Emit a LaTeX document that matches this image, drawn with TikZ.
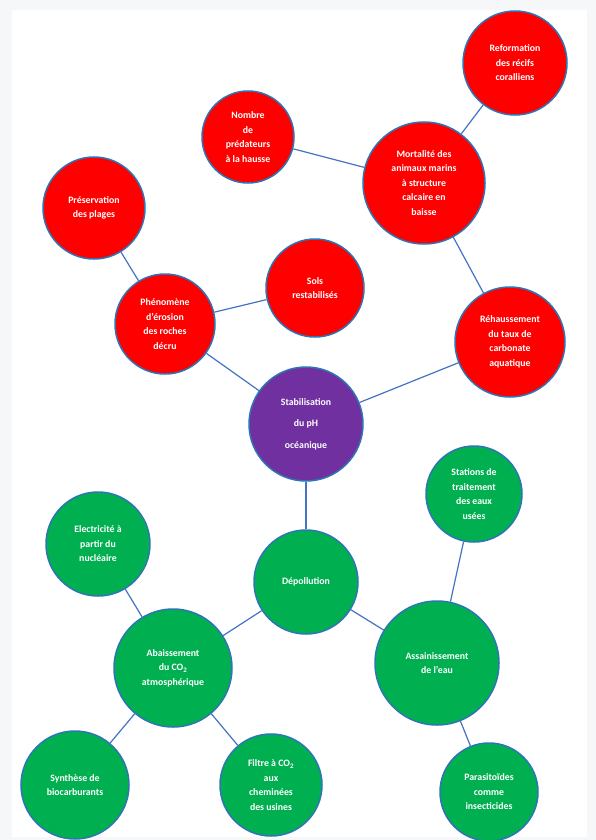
\documentclass[tikz,border=0pt]{standalone}
\usepackage{fontspec}
\setmainfont{Carlito}
\definecolor{bubblered}{RGB}{255,0,0}
\definecolor{bubblegreen}{RGB}{0,176,80}
\definecolor{bubblepurple}{RGB}{112,48,160}
\definecolor{rimblue}{RGB}{46,117,182}
\definecolor{linkblue}{RGB}{68,114,196}
\definecolor{pagegrey}{RGB}{246,247,248}

\begin{document}
\begin{tikzpicture}[x=1pt,y=-1pt,
    bubble/.style={circle,draw=rimblue,line width=1.5pt,inner sep=0pt,
      text=white,align=center,font=\fontsize{9.8}{14.5}\selectfont\bfseries},
    redbubble/.style={bubble,fill=bubblered},
    greenbubble/.style={bubble,fill=bubblegreen},
    link/.style={draw=linkblue,line width=1.2pt}]
    \fill[pagegrey] (0,0) rectangle (596,840);
    \fill[white] (12,10) rectangle (587,837);
    \useasboundingbox (0,0) rectangle (596,840);

    % upper part
    \node[redbubble,minimum size=104pt] (reform) at (515,63)
      {Reformation\\des récifs\\coralliens};
    \node[redbubble,minimum size=92pt] (nombre) at (248,137)
      {Nombre\\de\\prédateurs\\à la hausse};
    \node[redbubble,minimum size=122pt] (mortal) at (424,183)
      {Mortalité des\\animaux marins\\à structure\\calcaire en\\baisse};
    \node[redbubble,minimum size=102pt] (preserv) at (94,208)
      {Préservation\\des plages};
    \node[redbubble,minimum size=98pt] (sols) at (315,288)
      {Sols\\restabilisés};
    \node[redbubble,minimum size=100pt] (erosion) at (165,324)
      {Phénomène\\d’érosion\\des roches\\décru};
    \node[redbubble,minimum size=110pt] (rehauss) at (510,342)
      {Réhaussement\\du taux de\\carbonate\\aquatique};
    \node[bubble,fill=bubblepurple,minimum size=114pt] (stabil) at (306,424)
      {Stabilisation\\[7pt]du pH\\[7pt]océanique};

    % lower part
    \node[greenbubble,minimum size=96pt] (stations) at (474,494)
      {Stations de\\traitement\\des eaux\\usées};
    \node[greenbubble,minimum size=104pt] (electr) at (98,544)
      {Electricité à\\partir du\\nucléaire};
    \node[greenbubble,minimum size=104pt] (depol) at (306,582)
      {Dépollution};
    \node[greenbubble,minimum size=124pt] (assain) at (437,663)
      {Assainissement\\de l’eau};
    \node[greenbubble,minimum size=118pt] (abaiss) at (173,668)
      {Abaissement\\du CO\textsubscript{2}\\atmosphérique};
    \node[greenbubble,minimum size=108pt] (synth) at (75,785)
      {Synthèse de\\biocarburants};
    \node[greenbubble,minimum size=102pt] (filtre) at (271,785)
      {Filtre à CO\textsubscript{2}\\aux\\cheminées\\des usines};
    \node[greenbubble,minimum size=98pt] (parasit) at (489,792)
      {Parasitoïdes\\comme\\insecticides};

    \draw[link] (reform)--(mortal);
    \draw[link] (nombre)--(mortal);
    \draw[link] (mortal)--(rehauss);
    \draw[link] (rehauss)--(stabil);
    \draw[link] (preserv)--(erosion);
    \draw[link] (sols)--(erosion);
    \draw[link] (erosion)--(stabil);
    \draw[link] (stabil)--(depol);
    \draw[link] (depol)--(abaiss);
    \draw[link] (depol)--(assain);
    \draw[link] (electr)--(abaiss);
    \draw[link] (abaiss)--(synth);
    \draw[link] (abaiss)--(filtre);
    \draw[link] (assain)--(stations);
    \draw[link] (assain)--(parasit);
  \end{tikzpicture}
\end{document}
